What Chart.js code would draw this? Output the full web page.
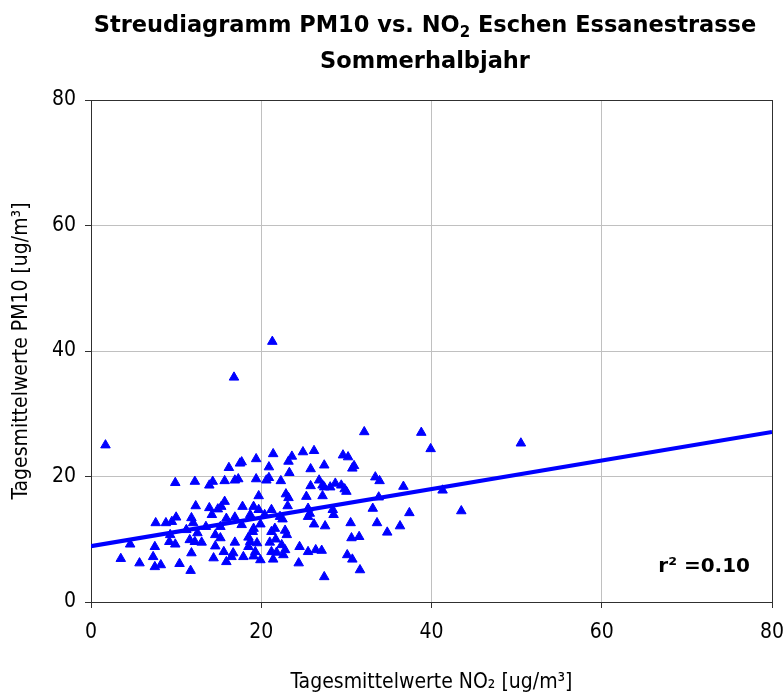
<!DOCTYPE html>
<html>
<head>
<meta charset="utf-8">
<script src="https://cdn.jsdelivr.net/npm/chart.js@4.4.1/dist/chart.umd.min.js"></script>
<style>
html,body{margin:0;padding:0;background:#fff;}
#wrap{width:784px;height:700px;}
</style>
</head>
<body>
<div id="wrap"><canvas id="c" width="784" height="700"></canvas></div>
<script>
// NO2 daily means (x) and PM10 daily means (y)
const no2 = [
1.7,9.9,12.2,13.9,14.3,12.3,13.9,14.9,7.6,8.8,9.5,10.0,11.8,12.0,14.2,4.6,7.5,9.2,9.9,11.6,12.2,13.0,14.6,3.5,5.7,7.3,7.5,8.2,10.4,11.7,11.8,14.4,14.6,9.3,11.2,12.5,13.5,
16.2,17.5,17.7,19.4,21.4,20.9,23.2,23.6,24.9,26.2,25.8,27.4,23.3,15.7,16.9,17.3,19.4,20.6,20.9,22.3,22.9,23.2,25.3,25.8,26.8,27.2,27.4,28.1,28.7,27.2,
15.7,15.3,17.8,19.7,19.1,19.7,21.2,23.1,25.5,25.7,28.4,28.5,15.9,16.9,18.7,20.4,22.2,22.5,25.5,26.2,27.5,15.2,17.7,19.9,19.1,19.0,15.2,18.5,21.2,21.6,22.8,23.0,
16.9,18.7,19.5,21.0,21.7,22.4,15.6,16.7,18.5,19.3,21.2,21.8,22.8,24.5,25.5,26.4,27.1,15.9,16.5,17.9,19.1,19.9,21.4,22.6,24.4,27.4,
32.1,38.8,39.9,50.5,29.6,30.2,30.7,30.9,33.4,33.9,29.4,29.8,30.0,36.7,33.8,41.3,33.1,37.4,43.5,30.5,33.6,36.3,34.8,30.6,31.5,30.1,30.7,31.6,
21.3,16.8
];
const pm10 = [
25.0,19.0,19.2,18.6,19.2,15.3,15.0,14.8,12.6,12.6,12.8,13.5,13.4,12.6,13.9,9.2,8.8,9.6,9.2,9.9,9.6,9.5,8.9,6.9,6.2,7.2,5.6,5.9,6.1,5.0,7.8,7.0,10.7,10.7,11.5,11.0,12.0,
21.4,22.1,22.3,22.8,23.6,21.5,22.4,23.2,23.9,24.1,21.2,21.8,20.6,19.3,19.4,19.6,19.6,19.4,19.8,19.3,17.2,16.6,16.8,18.5,19.4,18.6,18.3,18.3,18.9,16.9,
16.0,15.2,15.2,16.9,15.2,14.7,14.7,15.3,14.9,14.1,14.7,13.9,13.3,13.5,13.9,13.9,13.6,13.2,13.6,12.4,12.1,12.0,12.3,12.4,11.7,11.2,10.2,10.3,11.2,11.7,11.4,10.7,
9.5,9.6,9.4,9.5,10.0,9.1,8.0,7.8,8.8,8.0,8.0,7.9,8.3,8.8,8.0,8.3,8.2,6.4,7.2,7.2,7.3,6.7,6.8,7.5,6.2,4.0,
27.1,27.0,24.4,25.3,23.4,23.1,21.3,21.7,19.9,19.3,18.6,18.0,17.6,18.4,16.7,17.8,14.9,14.2,14.5,12.6,12.6,12.1,11.1,10.2,10.4,7.5,6.8,5.1,
41.5,35.8
];
// regression line end points
const trendX = [0, 80];
const trendY = [8.9, 27.1];
const xTicks = [0, 20, 40, 60, 80];
const yTicks = [0, 20, 40, 60, 80];
const rSquared = "0.10";

const FONT = "'DejaVu Sans', Verdana, sans-serif";
const CFONT = "'DejaVu Sans Condensed', 'DejaVu Sans', sans-serif";
const BLUE = '#0000ff';

const titlePlugin = {
  id: 'customTitle',
  afterDraw(chart) {
    const ctx = chart.ctx;
    ctx.save();
    ctx.fillStyle = '#000';
    ctx.textBaseline = 'alphabetic';
    const big = "bold 22.5px " + FONT, small = "bold 15px " + FONT;
    const parts = [["Streudiagramm PM10 vs. NO", big, 0], ["2", small, 5], [" Eschen Essanestrasse", big, 0]];
    let w = 0;
    parts.forEach(p => { ctx.font = p[1]; w += ctx.measureText(p[0]).width; });
    let x = 425 - w / 2;
    ctx.textAlign = 'left';
    parts.forEach(p => { ctx.font = p[1]; ctx.fillText(p[0], x, 32 + p[2]); x += ctx.measureText(p[0]).width; });
    ctx.font = big;
    ctx.textAlign = 'center';
    ctx.fillText("Sommerhalbjahr", 425, 68);
    // r² label
    const a = chart.chartArea;
    ctx.font = "bold 20px " + FONT;
    ctx.textAlign = 'right';
    ctx.fillText("r² =" + rSquared, a.right - 22, a.bottom - 30);
    ctx.restore();
  }
};

const edgeColor = (ctx) => (ctx.tick && ctx.tick.value === 80) ? '#303030' : '#c0c0c0';

new Chart(document.getElementById('c'), {
  data: {
    datasets: [
      {
        type: 'scatter',
        data: no2.map((x, i) => ({x: x, y: pm10[i]})),
        pointStyle: 'triangle',
        pointRadius: 5.5,
        pointHoverRadius: 5.5,
        backgroundColor: BLUE,
        borderColor: BLUE,
        borderWidth: 1,
        order: 2
      },
      {
        type: 'line',
        data: trendX.map((x, i) => ({x: x, y: trendY[i]})),
        borderColor: BLUE,
        borderWidth: 4,
        pointRadius: 0,
        fill: false,
        order: 1
      }
    ]
  },
  options: {
    responsive: false,
    animation: false,
    events: [],
    layout: { padding: { top: 100, right: 12, left: 0, bottom: 0 } },
    plugins: { legend: { display: false }, title: { display: false }, tooltip: { enabled: false } },
    scales: {
      x: {
        type: 'linear', min: 0, max: 80,
        afterBuildTicks: s => { s.ticks = xTicks.map(v => ({value: v})); },
        afterFit: s => { s.height = 98; s.paddingRight = 0; s.paddingLeft = 0; },
        ticks: { color: '#000', font: { family: CFONT, size: 21 }, padding: 12 },
        grid: { color: edgeColor, lineWidth: 1, tickLength: 6, tickColor: '#303030' },
        border: { color: '#303030', width: 1 },
        title: { display: true, text: 'Tagesmittelwerte NO₂ [ug/m³]', color: '#000', font: { family: CFONT, size: 21 }, padding: { bottom: 5 } }
      },
      y: {
        type: 'linear', min: 0, max: 80,
        afterBuildTicks: s => { s.ticks = yTicks.map(v => ({value: v})); },
        afterFit: s => { s.width = 91; s.paddingTop = 0; s.paddingBottom = 0; },
        ticks: { color: '#000', font: { family: CFONT, size: 21 }, padding: 9 },
        grid: { color: edgeColor, lineWidth: 1, tickLength: 6, tickColor: '#303030' },
        border: { color: '#303030', width: 1 },
        title: { display: true, text: 'Tagesmittelwerte PM10 [ug/m³]', color: '#000', font: { family: CFONT, size: 21 }, padding: { top: 9 } }
      }
    }
  },
  plugins: [titlePlugin]
});
</script>
</body>
</html>
